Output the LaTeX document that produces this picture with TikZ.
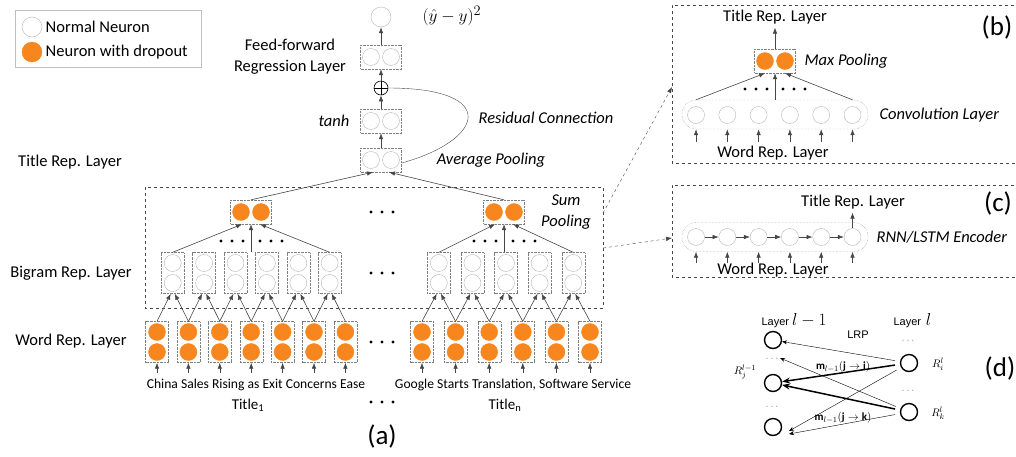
\documentclass[tikz,border=0pt]{standalone}
\usepackage{amsmath,amssymb}
\usepackage{fontspec}
\setmainfont{Carlito}
\newfontfamily\helv{Liberation Sans}
\usetikzlibrary{arrows.meta,calc,positioning}
\definecolor{dropc}{RGB}{247,134,30}
\definecolor{ncirc}{RGB}{180,180,180}
\definecolor{arr}{RGB}{70,70,70}
\tikzset{
  neuron/.style={circle,draw=ncirc,thin,minimum size=17pt,inner sep=0pt},
  dneuron/.style={neuron,draw=dropc,fill=dropc},
  hbox/.style={draw=gray,densely dotted,minimum width=41pt,minimum height=24pt,inner sep=0pt},
  vbox/.style={draw=gray,densely dotted,minimum width=23pt,minimum height=41pt,inner sep=0pt},
  seqbox/.style={draw=gray,densely dotted,rounded corners=14pt,minimum width=186pt,minimum height=29pt,inner sep=0pt},
  flow/.style={-{Latex[length=6pt,width=4.5pt]},draw=arr,semithick},
  panel/.style={dashed,draw=arr,semithick},
  lrpline/.style={-{Stealth[length=5pt,width=4pt]},thin},
  lrpthick/.style={-{Stealth[length=8pt,width=6pt]},line width=1.5pt},
  lrpn/.style={circle,draw,line width=1.4pt,minimum size=17pt,inner sep=0pt},
  lbl/.style={font=\fontsize{16.5}{21}\selectfont},
  itl/.style={font=\fontsize{16.5}{21}\selectfont\itshape},
  wrd/.style={font=\fontsize{13.6}{15}\selectfont},
  big/.style={font=\fontsize{27}{30}\selectfont},
  small/.style={font=\helv\fontsize{11}{13}\selectfont}
}
\newcommand\threedots[3]{\foreach \d in {-1,0,1} \fill ({#1+\d*#3},#2) circle (1.7pt);}

\begin{document}
\begin{tikzpicture}[x=1pt,y=-1pt]
  \useasboundingbox (0,0) rectangle (1016,456);

  % legend
  \draw[gray!50] (15,10) rectangle (201,67);
  \node[neuron,minimum size=20pt] (lgn) at (32,27) {};
  \node[dneuron,minimum size=20pt] (lgd) at (32,52) {};
  \node[lbl,right=0pt of lgn] (lgntxt) {Normal Neuron};
  \node[lbl,right=0pt of lgd] (lgdtxt) {Neuron with dropout};

  % (a) regression on top
  \node[neuron,minimum size=20pt] (out) at (381,17) {};
  \node[anchor=west,font=\fontsize{19}{21}\selectfont] (loss) at (419,16) {$(\hat{y}-y)^2$};
  \foreach \n/\y in {ff/57,th/121,avg/160}{
    \node[hbox] (\n) at (381,\y) {};
    \node[neuron] (\n-l) at (371,\y) {};
    \node[neuron] (\n-r) at (391,\y) {};
  }
  \node[circle,draw,semithick,minimum size=14pt,inner sep=0pt] (plus) at (381,88) {};
  \draw[semithick] (plus.north) -- (plus.south) (plus.west) -- (plus.east);
  \draw[flow] (ff.north) -- (out.south);
  \draw[flow] (plus.north) -- (ff.south);
  \draw[flow] (th.north) -- (plus.south);
  \draw[flow] (avg.north) -- (th.south);
  \draw[arr] ($(avg.east)+(0,3)$) .. controls (485,140) and (500,88) .. (plus.east);

  \node[lbl,align=center] (fflbl) at (290,57) {Feed-forward\\Regression Layer};
  \node[itl] (thlbl) at (334,121) {tanh};
  \node[itl] (reslbl) at (546,118) {Residual Connection};
  \node[itl] (avglbl) at (491,160) {Average Pooling};

  % layer names
  \node[lbl] (titlerep) at (70,162) {Title Rep. Layer};
  \node[lbl] (bigramrep) at (71,273) {Bigram Rep. Layer};
  \node[lbl] (wordrep) at (71,341) {Word Rep. Layer};

  % sum pooling frame
  \draw[panel] (145,187) rectangle (603,308);
  \node[itl,align=center] (sumlbl) at (566,212) {Sum\\Pooling};

  % word layer
  \foreach \i in {1,...,7}{
    \pgfmathsetmacro\x{157+(\i-1)*31.4}
    \node[vbox] (wa\i) at (\x,342) {};
    \node[dneuron] (wa\i-t) at (\x,332) {};
    \node[dneuron] (wa\i-b) at (\x,352) {};
    \draw[flow] ($(wa\i.south)+(0,10)$) -- (wa\i.south);
  }
  \foreach \i in {1,...,6}{
    \pgfmathsetmacro\x{422+(\i-1)*33.6}
    \node[vbox] (wb\i) at (\x,342) {};
    \node[dneuron] (wb\i-t) at (\x,332) {};
    \node[dneuron] (wb\i-b) at (\x,352) {};
    \draw[flow] ($(wb\i.south)+(0,10)$) -- (wb\i.south);
  }

  % bigram layer
  \foreach \i [count=\j from 2] in {1,...,6}{
    \pgfmathsetmacro\x{172.7+(\i-1)*31.4}
    \node[vbox] (ba\i) at (\x,273) {};
    \node[neuron] (ba\i-t) at (\x,263) {};
    \node[neuron] (ba\i-b) at (\x,283) {};
    \draw[flow] (wa\i.north) -- ([xshift=-2pt]ba\i.south);
    \draw[flow] (wa\j.north) -- ([xshift=2pt]ba\i.south);
  }
  \foreach \i [count=\j from 2] in {1,...,5}{
    \pgfmathsetmacro\x{438.8+(\i-1)*33.6}
    \node[vbox] (bb\i) at (\x,273) {};
    \node[neuron] (bb\i-t) at (\x,263) {};
    \node[neuron] (bb\i-b) at (\x,283) {};
    \draw[flow] (wb\i.north) -- ([xshift=-2pt]bb\i.south);
    \draw[flow] (wb\j.north) -- ([xshift=2pt]bb\i.south);
  }

  % sum pooling
  \foreach \n/\x in {pa/251,pb/504}{
    \node[hbox] (\n) at (\x,212) {};
    \node[dneuron] (\n-l) at (\x-10,212) {};
    \node[dneuron] (\n-r) at (\x+10,212) {};
  }
  \draw[flow] (ba1.north) -- ([xshift=-9pt]pa.south);
  \draw[flow] (pa.south |- ba1.north) -- (pa.south);
  \draw[flow] (ba6.north) -- ([xshift=9pt]pa.south);
  \draw[flow] (bb1.north) -- ([xshift=-9pt]pb.south);
  \draw[flow] (pb.south |- bb1.north) -- (pb.south);
  \draw[flow] (bb5.north) -- ([xshift=9pt]pb.south);
  \draw[flow] (pa.north) -- ([xshift=-8pt]avg.south);
  \draw[flow] (pb.north) -- ([xshift=8pt]avg.south);

  \threedots{232}{241}{11}
  \threedots{271}{241}{11}
  \threedots{485}{241}{11}
  \threedots{524}{241}{11}
  \threedots{382}{212}{11}
  \threedots{382}{273}{11}
  \threedots{382}{342}{11}
  \threedots{382}{402}{11}

  % titles
  \node[wrd] (t1words) at (256,385) {China Sales Rising as Exit Concerns Ease};
  \node[wrd] (tnwords) at (513,385) {Google Starts Translation, Software Service};
  \node[font=\fontsize{15}{17}\selectfont] (t1) at (248,405) {Title\textsubscript{1}};
  \node[font=\fontsize{15}{17}\selectfont] (tn) at (505,405) {Title\textsubscript{n}};
  \node[big] (alab) at (382,436) {(a)};

  % (b) CNN
  \draw[panel] (1020,5) -- (672,5) -- (672,163) -- (1020,163);
  \node[big] (blab) at (997,27) {(b)};
  \node[lbl] (btitle) at (775,17) {Title Rep. Layer};
  \node[hbox] (mp) at (775,61) {};
  \node[dneuron] (mp-l) at (765,61) {};
  \node[dneuron] (mp-r) at (785,61) {};
  \node[itl,anchor=west] (mplbl) at (801,61) {Max Pooling};
  \node[seqbox] (conv) at (775,114.5) {};
  \foreach \i in {1,...,6}{
    \pgfmathsetmacro\x{696+(\i-1)*31.3}
    \node[neuron] (cv\i) at (\x,115) {};
    \draw[flow] (\x,142) -- (cv\i |- conv.south);
  }
  \draw[flow] (mp.north) -- (btitle.south);
  \draw[flow] (cv1 |- conv.north) -- ([xshift=-10pt]mp.south);
  \draw[flow] (mp.south |- conv.north) -- (mp.south);
  \draw[flow] (cv6 |- conv.north) -- ([xshift=10pt]mp.south);
  \threedots{756}{89}{11}
  \threedots{794}{89}{11}
  \node[lbl] (bword) at (773,153) {Word Rep. Layer};
  \node[itl,anchor=west] (convlbl) at (876,115) {Convolution Layer};

  % (c) RNN
  \draw[panel] (1020,185) -- (672,185) -- (672,277) -- (1020,277);
  \node[big] (clab) at (998,203) {(c)};
  \node[lbl] (ctitle) at (853,202) {Title Rep. Layer};
  \node[seqbox] (rnn) at (775,237) {};
  \foreach \i in {1,...,6}{
    \pgfmathsetmacro\x{696+(\i-1)*31.3}
    \node[neuron] (rn\i) at (\x,237) {};
    \draw[flow] (\x,263) -- (rn\i |- rnn.south);
  }
  \foreach \i [count=\j from 2] in {1,...,5}
    \draw[flow] (rn\i.east) -- (rn\j.west);
  \draw[flow] (rn6.north) -- (rn6 |- ctitle.south);
  \node[lbl] (cword) at (773,270) {Word Rep. Layer};
  \node[itl,anchor=west] (rnnlbl) at (873,237) {RNN/LSTM Encoder};

  % zoom-out arrows
  \draw[panel,thin,-{Latex[length=6pt,width=4.5pt]}] (603,213) -- (672,87);
  \draw[panel,thin,-{Latex[length=6pt,width=4.5pt]}] (603,248) -- (672,238);

  % (d) LRP
  \node[big] (dlab) at (1000,368) {(d)};
  \node[lrpn] (j1) at (773,340) {};
  \node[lrpn] (j2) at (773,383) {};
  \node[lrpn] (j3) at (773,427) {};
  \node[lrpn] (ri) at (909,363) {};
  \node[lrpn] (rk) at (909,412) {};
  \node[small,anchor=west] (llm1) at (758,321) {Layer {\fontsize{18}{18}\selectfont$l-1$}};
  \node[small,anchor=west] (ll) at (890,321) {Layer\, {\fontsize{18}{18}\selectfont$l$}};
  \node[small] (lrp) at (858,335) {LRP};
  \foreach \n/\x/\y in {dj1/773/359,dj2/773/407,di1/909/341,di2/909/391}
    \node[small,gray] (\n) at (\x,\y) {$\cdots$};
  \node[small] (rj) at (745,372) {$R_j^{l-1}$};
  \node[small] (rii) at (938,364) {$R_i^{l}$};
  \node[small] (rkk) at (938,413) {$R_k^{l}$};
  \node[small] (mji) at (843,367) {$\mathbf{m}_{l-1}(\mathbf{j}\rightarrow\mathbf{i})$};
  \node[small] (mjk) at (843,418) {$\mathbf{m}_{l-1}(\mathbf{j}\rightarrow\mathbf{k})$};
  \coordinate (jd) at (780,358);
  \coordinate (j3a) at (789,431);
  \coordinate (j3b) at (789,434);
  \draw[lrpline,shorten <=5pt] (ri) -- (j1);
  \draw[lrpthick,shorten <=5pt] (ri) -- (j2);
  \draw[lrpline,shorten <=5pt] (ri) -- (j3a);
  \draw[lrpline,shorten <=5pt] (rk) -- (jd);
  \draw[lrpthick,shorten <=5pt] (rk) -- (j2);
  \draw[lrpline,shorten <=5pt] (rk) -- (j3b);
\end{tikzpicture}
\end{document}
